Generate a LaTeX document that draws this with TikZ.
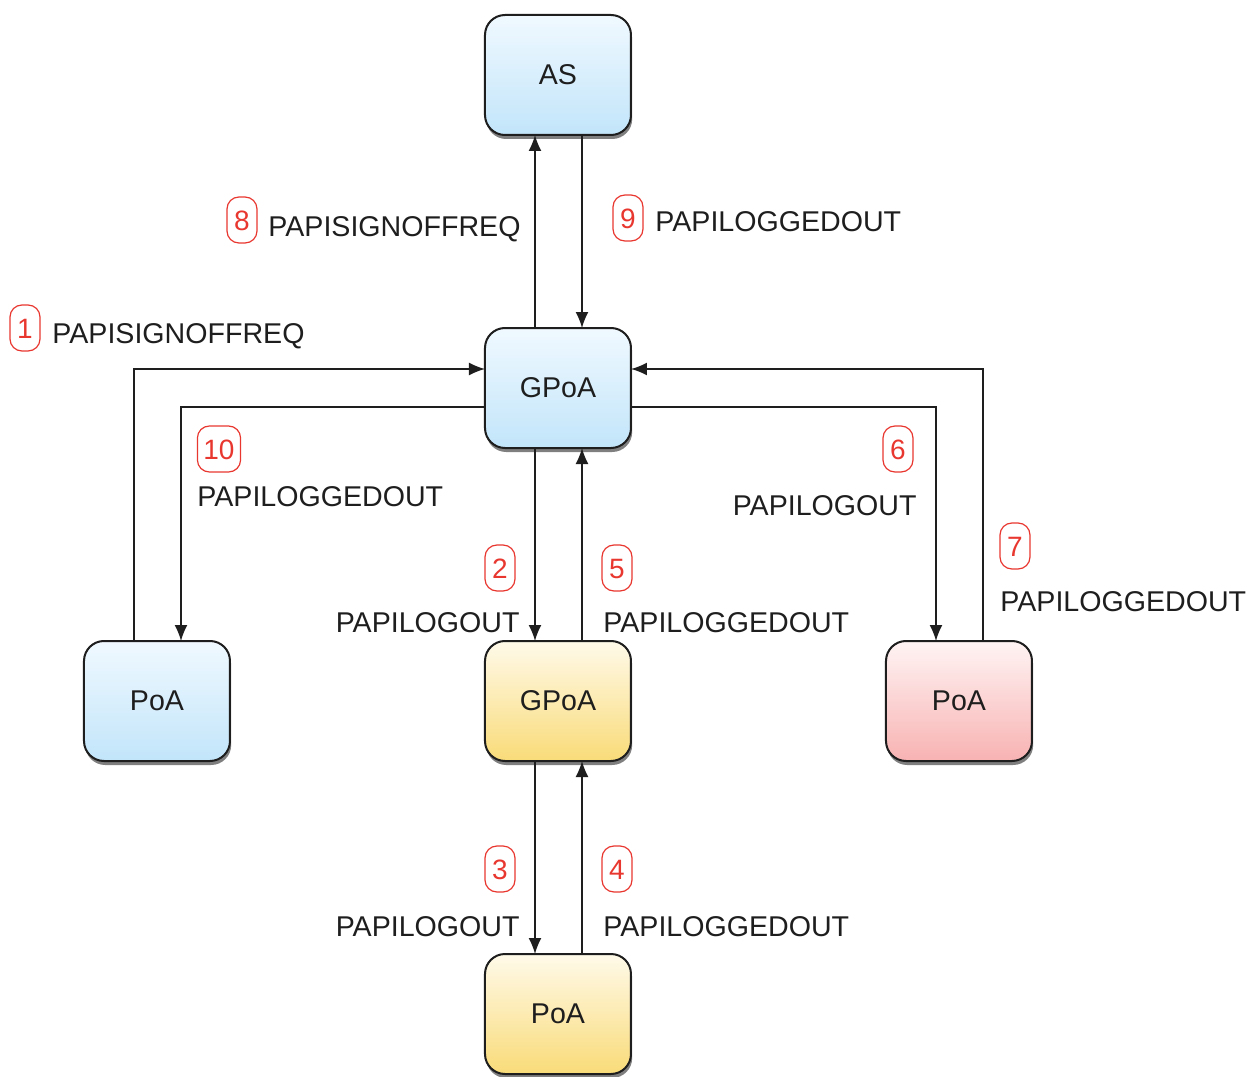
\documentclass[tikz,border=0pt]{standalone}
\usepackage{fontspec}
\setmainfont{Liberation Sans}
\usepackage{xcolor}
\usetikzlibrary{arrows.meta,positioning,shadows}
\definecolor{BoxBlueTop}{HTML}{F0F9FF}
\definecolor{BoxBlueBot}{HTML}{C2E5FA}
\definecolor{BoxYellowTop}{HTML}{FFFAEA}
\definecolor{BoxYellowBot}{HTML}{F9DB78}
\definecolor{BoxRedTop}{HTML}{FFF4F4}
\definecolor{BoxRedBot}{HTML}{F8B2B2}
\definecolor{BadgeRed}{HTML}{E8372F}
\definecolor{InkGray}{HTML}{1E1E1E}
\tikzset{
  papbox/.style={draw=InkGray, line width=1pt, rounded corners=10pt, minimum width=73pt, minimum height=60pt, outer sep=0pt, align=center, font=\fontsize{14.3}{16}\selectfont, text=InkGray, drop shadow={shadow xshift=0.6pt, shadow yshift=-2pt, opacity=0.5, fill=black}},
  papblue/.style={papbox, top color=BoxBlueTop, bottom color=BoxBlueBot},
  papyellow/.style={papbox, top color=BoxYellowTop, bottom color=BoxYellowBot},
  papred/.style={papbox, top color=BoxRedTop, bottom color=BoxRedBot},
  papbadge/.style={draw=BadgeRed, text=BadgeRed, line width=0.6pt, rounded corners=6pt, minimum width=15pt, minimum height=23pt, inner xsep=3pt, inner ysep=0pt, text height=10.2pt, text depth=0pt, font=\fontsize{14}{16}\selectfont},
  papmsg/.style={inner sep=0pt, text height=10.2pt, text depth=0pt, text=InkGray, font=\fontsize{14.3}{16}\selectfont},
  paparrow/.style={-{Latex[length=8pt,width=6.5pt]}, line width=0.8pt, draw=InkGray}
}

\begin{document}
\begin{tikzpicture}[node distance=96.5pt and 127.5pt]
  \useasboundingbox (-279pt,-344.5pt) rectangle (348.5pt,194pt);
  % boxes
  \node[papblue] (gpoa) at (0,0) {GPoA};
  \node[papblue, above=of gpoa] (as) {AS};
  \node[papyellow, below=of gpoa] (gpoamid) {GPoA};
  \node[papblue, left=of gpoamid] (poaleft) {PoA};
  \node[papred, right=of gpoamid] (poaright) {PoA};
  \node[papyellow, below=of gpoamid] (poabottom) {PoA};
  % connectors
  \draw[paparrow] ([xshift=-11.5pt]gpoa.north) -- ([xshift=-11.5pt]as.south);
  \draw[paparrow] ([xshift=12pt]as.south) -- ([xshift=12pt]gpoa.north);
  \draw[paparrow] ([xshift=-11.5pt]poaleft.north) |- ([yshift=9.5pt]gpoa.west);
  \draw[paparrow] ([yshift=-9.5pt]gpoa.west) -| ([xshift=12pt]poaleft.north);
  \draw[paparrow] ([xshift=-11.5pt]gpoa.south) -- ([xshift=-11.5pt]gpoamid.north);
  \draw[paparrow] ([xshift=12pt]gpoamid.north) -- ([xshift=12pt]gpoa.south);
  \draw[paparrow] ([yshift=-9.5pt]gpoa.east) -| ([xshift=-11.5pt]poaright.north);
  \draw[paparrow] ([xshift=12pt]poaright.north) |- ([yshift=9.5pt]gpoa.east);
  \draw[paparrow] ([xshift=-11.5pt]gpoamid.south) -- ([xshift=-11.5pt]poabottom.north);
  \draw[paparrow] ([xshift=12pt]poabottom.north) -- ([xshift=12pt]gpoamid.south);
  % step numbers and messages
  \node[papbadge] (badge1) at (-266.5pt,30pt) {1};
  \node[papmsg, anchor=west] (msg1) at (-253pt,27.5pt) {PAPISIGNOFFREQ};
  \node[papbadge] (badge2) at (-29pt,-90pt) {2};
  \node[papmsg, anchor=east] (msg2) at (-19pt,-117pt) {PAPILOGOUT};
  \node[papbadge] (badge3) at (-29pt,-240.5pt) {3};
  \node[papmsg, anchor=east] (msg3) at (-19pt,-269pt) {PAPILOGOUT};
  \node[papbadge] (badge4) at (29.5pt,-240.5pt) {4};
  \node[papmsg, anchor=west] (msg4) at (22.5pt,-269pt) {PAPILOGGEDOUT};
  \node[papbadge] (badge5) at (29.5pt,-90pt) {5};
  \node[papmsg, anchor=west] (msg5) at (22.5pt,-117pt) {PAPILOGGEDOUT};
  \node[papbadge] (badge6) at (170pt,-30.5pt) {6};
  \node[papmsg, anchor=east] (msg6) at (179.5pt,-58.5pt) {PAPILOGOUT};
  \node[papbadge] (badge7) at (228.5pt,-79pt) {7};
  \node[papmsg, anchor=west] (msg7) at (221pt,-106.5pt) {PAPILOGGEDOUT};
  \node[papbadge] (badge8) at (-158pt,84pt) {8};
  \node[papmsg, anchor=west] (msg8) at (-145pt,81pt) {PAPISIGNOFFREQ};
  \node[papbadge] (badge9) at (35pt,85pt) {9};
  \node[papmsg, anchor=west] (msg9) at (48.5pt,83.5pt) {PAPILOGGEDOUT};
  \node[papbadge] (badge10) at (-169.5pt,-30.5pt) {10};
  \node[papmsg, anchor=west] (msg10) at (-180.5pt,-54pt) {PAPILOGGEDOUT};
\end{tikzpicture}
\end{document}
